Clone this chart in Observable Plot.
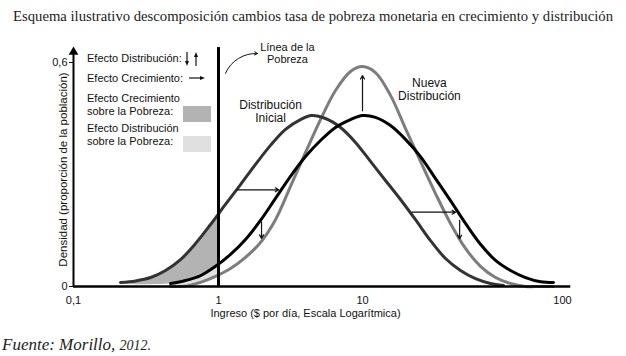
<!DOCTYPE html>
<html><head><meta charset="utf-8">
<script src="https://cdn.jsdelivr.net/npm/d3@7"></script>
<script src="https://cdn.jsdelivr.net/npm/@observablehq/plot@0.6"></script>
<style>
body{margin:0;background:#fff;}
#wrap{position:relative;width:626px;height:356px;overflow:hidden;font-family:"Liberation Sans",Arial,sans-serif;background:#fff;}
#title{position:absolute;left:0;top:8px;width:626px;text-align:center;font-size:14.7px;line-height:16px;font-family:"Liberation Serif","Times New Roman",serif;color:#222;white-space:nowrap;}
#chart{position:absolute;left:0;top:30px;}
#caption{position:absolute;left:2px;top:336px;font-style:italic;font-size:17px;line-height:18px;font-family:"Liberation Serif","Times New Roman",serif;color:#222;white-space:nowrap;}
.lg{position:absolute;font-size:11px;line-height:12.5px;color:#111;white-space:nowrap;}
.sw{position:absolute;width:28px;height:16px;}
.ar{position:absolute;}
</style>
</head><body>
<div id="wrap">
  <div id="title">Esquema ilustrativo descomposición cambios tasa de pobreza monetaria en crecimiento y distribución</div>
  <div id="chart"></div>
  <div class="lg" style="left:87px;top:52px;">Efecto Distribución:</div>
  <svg class="ar" style="left:183px;top:50px;" width="20" height="18">
    <line x1="4" y1="2" x2="4" y2="12" stroke="#111" stroke-width="1.2"/>
    <polygon points="2,11 6,11 4,16" fill="#111"/>
    <line x1="13" y1="16" x2="13" y2="6" stroke="#111" stroke-width="1.2"/>
    <polygon points="11,7 15,7 13,2" fill="#111"/>
  </svg>
  <div class="lg" style="left:87px;top:72px;">Efecto Crecimiento:</div>
  <svg class="ar" style="left:187px;top:73px;" width="20" height="10">
    <line x1="2" y1="5" x2="14" y2="5" stroke="#111" stroke-width="1.2"/>
    <polygon points="13,3 13,7 18,5" fill="#111"/>
  </svg>
  <div class="lg" style="left:87px;top:92px;line-height:13px;">Efecto Crecimiento<br>sobre la Pobreza:</div>
  <div class="sw" style="left:183px;top:106px;background:#b3b3b3;"></div>
  <div class="lg" style="left:87px;top:122px;">Efecto Distribución<br>sobre la Pobreza:</div>
  <div class="sw" style="left:183px;top:136px;background:#e0e0e0;"></div>
  <div id="caption">Fuente: Morillo, <span style="font-size:14px">2012.</span></div>
</div>
<script>
// Income ($ per day, log scale) and density readings
const incomeInicial = [0.211, 0.268, 0.340, 0.431, 0.547, 0.694, 0.881, 1.118, 1.422, 1.807, 2.296, 2.920, 3.710, 4.424, 5.536, 7.036, 8.942, 10.965, 13.032, 15.488, 18.408, 21.878, 26.002, 30.903, 36.728, 43.652, 50.699];
const densInicial   = [0.011, 0.015, 0.024, 0.043, 0.072, 0.115, 0.166, 0.220, 0.273, 0.327, 0.378, 0.421, 0.447, 0.458, 0.450, 0.426, 0.386, 0.335, 0.284, 0.233, 0.179, 0.123, 0.075, 0.043, 0.021, 0.008, 0.003];

const incomeCrec = [0.467, 0.592, 0.751, 0.954, 1.212, 1.540, 1.957, 2.488, 3.162, 4.020, 5.109, 6.494, 8.254, 10.0, 11.614, 13.804, 16.406, 19.498, 23.174, 27.542, 32.734, 38.905, 46.238, 54.954, 65.313, 77.625, 90.157];
const densCrec   = [0.008, 0.016, 0.029, 0.054, 0.086, 0.126, 0.177, 0.236, 0.295, 0.348, 0.391, 0.426, 0.447, 0.458, 0.453, 0.431, 0.394, 0.348, 0.289, 0.230, 0.169, 0.113, 0.070, 0.043, 0.024, 0.013, 0.011];

const incomeNueva = [0.467, 0.592, 0.751, 0.954, 1.212, 1.540, 1.957, 2.488, 3.162, 4.020, 5.109, 6.494, 8.254, 10.0, 11.614, 13.804, 16.406, 19.498, 23.174, 27.542, 32.734, 38.905, 46.238, 54.954, 65.313, 77.625, 90.157];
const densNueva   = [0.0, 0.001, 0.011, 0.027, 0.048, 0.078, 0.118, 0.179, 0.268, 0.359, 0.447, 0.525, 0.576, 0.589, 0.573, 0.512, 0.423, 0.335, 0.249, 0.169, 0.102, 0.054, 0.024, 0.008, 0.0, 0.0, 0.0];

// shaded areas (below the poverty line)
const shadeCrecIncome = [0.211, 0.268, 0.340, 0.431, 0.467, 0.547, 0.694, 0.881, 1.0];
const shadeCrecUpper  = [0.011, 0.015, 0.024, 0.043, 0.053, 0.072, 0.115, 0.166, 0.195];
const shadeCrecLower  = [0.009, 0.005, 0.005, 0.006, 0.008, 0.013, 0.027, 0.046, 0.060];
const shadeDistIncome = [0.467, 0.592, 0.751, 0.954, 1.0];
const shadeDistUpper  = [0.008, 0.016, 0.029, 0.054, 0.060];
const shadeDistLower  = [0.0, 0.001, 0.011, 0.027, 0.031];

const povertyLine = 1;
const xTicks = [0.1, 1, 10, 100];
const yTicks = [0, 0.6];

// effect arrows
const growthFrom = [1.348, 17.7];
const growthTo   = [2.62, 29.2];
const growthDens = [0.259, 0.199];
const distIncome = [1.99, 10, 30.6];
const distFrom   = [0.173, 0.471, 0.177];
const distTo     = [0.129, 0.565, 0.128];

// labels
const labelPobreza = {income: 3.01, dens: 0.624, text: "Línea de la\nPobreza"};
const labelDist = [
  {income: 2.30, dens: 0.470, text: "Distribución\nInicial"},
  {income: 21.6, dens: 0.528, text: "Nueva\nDistribución"}
];
const pointer = {x1: 1.118, y1: 0.571, x2: 1.866, y2: 0.624};

const toRows = (xs, ys) => xs.map((x, i) => ({x, y: ys[i]}));
const inicial = toRows(incomeInicial, densInicial);
const crec = toRows(incomeCrec, densCrec);
const nueva = toRows(incomeNueva, densNueva);
const shadeCrec = shadeCrecIncome.map((x, i) => ({x, lo: shadeCrecLower[i], hi: shadeCrecUpper[i]}));
const shadeDist = shadeDistIncome.map((x, i) => ({x, lo: shadeDistLower[i], hi: shadeDistUpper[i]}));
const growth = growthFrom.map((x, i) => ({x1: x, x2: growthTo[i], y: growthDens[i]}));
const dist = distIncome.map((x, i) => ({x, y1: distFrom[i], y2: distTo[i]}));
const fmt = d => String(d).replace(".", ",");

const chart = Plot.plot({
  width: 626, height: 300,
  marginLeft: 73, marginRight: 89, marginTop: 22, marginBottom: 44,
  style: {fontFamily: '"Liberation Sans", Arial, sans-serif', fontSize: "11px", background: "white", color: "#111"},
  x: {type: "log", domain: [0.1, 1, 10, 100], range: [73, 218, 362, 562], ticks: xTicks, tickFormat: fmt, tickSize: 0, tickPadding: 10, label: null},
  y: {domain: [0, 0.6], range: [256, 32], ticks: yTicks, tickFormat: fmt, tickSize: 4, tickPadding: 2, label: null},
  marks: [
    Plot.areaY(shadeCrec, {x: "x", y1: "lo", y2: "hi", fill: "#b3b3b3", curve: "catmull-rom"}),
    Plot.areaY(shadeDist, {x: "x", y1: "lo", y2: "hi", fill: "#e0e0e0", curve: "catmull-rom"}),
    Plot.line(nueva, {x: "x", y: "y", stroke: "#7d7d7d", strokeWidth: 3, curve: "catmull-rom"}),
    Plot.line(inicial, {x: "x", y: "y", stroke: "#333", strokeWidth: 3, curve: "catmull-rom"}),
    Plot.line(crec, {x: "x", y: "y", stroke: "#000", strokeWidth: 3, curve: "catmull-rom"}),
    Plot.ruleX([povertyLine], {y1: 0, y2: 0.64, stroke: "#000", strokeWidth: 3}),
    Plot.ruleY([0], {x1: 0.1, x2: 110, stroke: "#000", strokeWidth: 2.5}),
    Plot.ruleX([0.1], {y1: 0, y2: 0.625, stroke: "#000", strokeWidth: 2}),
    Plot.dot([{x: 0.1, y: 0.628}], {x: "x", y: "y", symbol: "triangle", r: 3.6, fill: "#000", stroke: "none"}),
    Plot.arrow(growth, {x1: "x1", x2: "x2", y1: "y", y2: "y", stroke: "#111", strokeWidth: 1.2, headLength: 5, headAngle: 60}),
    Plot.arrow(dist, {x1: "x", x2: "x", y1: "y1", y2: "y2", stroke: "#111", strokeWidth: 1.2, headLength: 5, headAngle: 60}),
    Plot.arrow([pointer], {x1: "x1", y1: "y1", x2: "x2", y2: "y2", bend: 35, stroke: "#111", strokeWidth: 1, headLength: 5, headAngle: 60}),
    Plot.text([labelPobreza], {x: "income", y: "dens", text: "text", fontSize: 11, lineHeight: 1.1, fill: "#111"}),
    Plot.text(labelDist, {x: "income", y: "dens", text: "text", fontSize: 12, lineHeight: 1.12, fill: "#111"}),
    Plot.text(["Ingreso ($ por día, Escala Logarítmica)"], {frameAnchor: "bottom", textAnchor: "middle", lineAnchor: "middle", dy: 27, fontSize: 11, fill: "#111"}),
    Plot.text(["Densidad (proporción de la población)"], {frameAnchor: "left", textAnchor: "middle", lineAnchor: "middle", dx: -10, rotate: -90, fontSize: 11.5, fill: "#111"})
  ]
});
document.getElementById("chart").appendChild(chart);
</script>
</body></html>
